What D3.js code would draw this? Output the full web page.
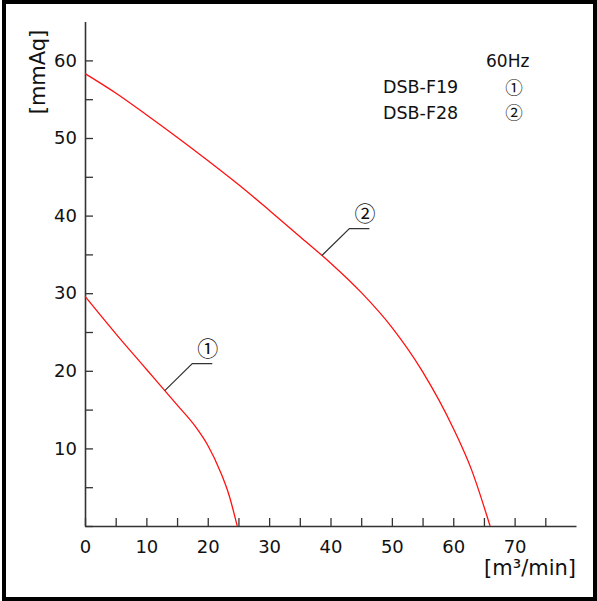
<!DOCTYPE html>
<html>
<head>
    <meta charset="utf-8">
    <style>
        html, body {
            margin: 0;
            padding: 0;
            background: #fff;
        }

        svg {
            display: block;
            font-family: "DejaVu Sans", sans-serif;
        }

        .circ {
            font-family: "Noto Sans CJK KR", "DejaVu Sans", sans-serif;
        }
    </style>
</head>
<body>
<div id="chart"></div>

<script src="https://cdn.jsdelivr.net/npm/d3@7"></script>
<script>
    "use strict";

    // air flow [m3/min] vs static pressure [mmAq]
    const f19Flow = [0, 5, 10, 15, 18, 20, 22, 23.5, 24.8];
    const f19Head = [29.6, 24.8, 20.2, 15.6, 12.8, 10.4, 7.1, 3.9, 0];

    const f28Flow = [0, 5, 10, 15, 20, 25, 30, 35, 40, 45, 50, 55, 60, 63, 66];
    const f28Head = [58.3, 55.8, 53.0, 50.1, 47.1, 44.0, 40.7, 37.3, 33.9, 30.1, 25.6, 19.9, 12.6, 7.2, 0];

    const xTicks = d3.range(0, 80, 5);
    const yTicks = d3.range(0, 65, 5);

    const legendModels = ["DSB-F19", "DSB-F28"];
    const legendMarks = ["①", "②"];

    const W = 597, H = 601;

    const x = d3.scaleLinear().domain([0, 80]).range([85, 576]);
    const y = d3.scaleLinear().domain([0, 65]).range([526, 21.6]);

    const svg = d3.select("#chart").append("svg")
        .attr("width", W)
        .attr("height", H);

    svg.append("rect")
        .attr("x", 0).attr("y", 0)
        .attr("width", W).attr("height", H)
        .attr("fill", "#fff");

    // frame
    svg.append("rect")
        .attr("x", 4).attr("y", 2)
        .attr("width", W - 6).attr("height", H - 4)
        .attr("fill", "none")
        .attr("stroke", "#000")
        .attr("stroke-width", 4);

    const xAxis = d3.axisBottom(x)
        .tickValues(xTicks)
        .tickSizeInner(-8)
        .tickSizeOuter(0)
        .tickPadding(10)
        .tickFormat(function (d) { return d % 10 === 0 ? d : ""; });

    const yAxis = d3.axisLeft(y)
        .tickValues(yTicks)
        .tickSizeInner(-8)
        .tickSizeOuter(0)
        .tickPadding(8)
        .tickFormat(function (d) { return (d % 10 === 0 && d > 0) ? d : ""; });

    const gx = svg.append("g")
        .attr("transform", "translate(0," + y(0) + ")")
        .call(xAxis);

    const gy = svg.append("g")
        .attr("transform", "translate(" + x(0) + ",0)")
        .call(yAxis);

    [gx, gy].forEach(function (g) {
        g.select(".domain").attr("stroke", "#333").attr("stroke-width", 1.6);
        g.selectAll(".tick line").attr("stroke", "#333").attr("stroke-width", 1.3);
        g.selectAll(".tick text")
            .attr("fill", "#111")
            .style("font-size", "18px")
            .style("font-family", "'DejaVu Sans', sans-serif");
    });
    gx.selectAll(".tick text").attr("dy", "0.95em");

    // axis titles
    svg.append("text")
        .attr("transform", "translate(45,72) rotate(-90)")
        .attr("text-anchor", "middle")
        .style("font-size", "21px")
        .attr("fill", "#111")
        .text("[mmAq]");

    svg.append("text")
        .attr("x", 576)
        .attr("y", 575)
        .attr("text-anchor", "end")
        .style("font-size", "21px")
        .attr("fill", "#111")
        .text("[m³/min]");

    // curves
    const line = d3.line()
        .x(function (d) { return x(d[0]); })
        .y(function (d) { return y(d[1]); })
        .curve(d3.curveMonotoneX);

    const series = [d3.zip(f19Flow, f19Head), d3.zip(f28Flow, f28Head)];

    svg.selectAll("path.curve")
        .data(series)
        .enter()
        .append("path")
        .attr("class", "curve")
        .attr("d", line)
        .attr("fill", "none")
        .attr("stroke", "#ff1010")
        .attr("stroke-width", 1.3);

    // leader lines with circled numbers
    const leaders = [
        {flow: 13.0, mark: legendMarks[0], data: series[0]},
        {flow: 38.6, mark: legendMarks[1], data: series[1]}
    ];

    leaders.forEach(function (l) {
        const head = d3.scaleLinear()
            .domain(l.data.map(function (d) { return d[0]; }))
            .range(l.data.map(function (d) { return d[1]; }));
        const px = x(l.flow), py = y(head(l.flow));
        svg.append("polyline")
            .attr("points", [[px, py], [px + 27.5, py - 27], [px + 47.5, py - 27]].join(" "))
            .attr("fill", "none")
            .attr("stroke", "#333")
            .attr("stroke-width", 1.2);
        svg.append("text")
            .attr("class", "circ")
            .attr("x", px + 43)
            .attr("y", py - 44)
            .attr("text-anchor", "middle")
            .attr("dominant-baseline", "central")
            .style("font-size", "21px")
            .attr("fill", "#111")
            .text(l.mark);
    });

    // legend
    svg.append("text")
        .attr("x", 486)
        .attr("y", 67)
        .style("font-size", "17px")
        .attr("fill", "#111")
        .text("60Hz");

    legendModels.forEach(function (m, i) {
        svg.append("text")
            .attr("x", 383)
            .attr("y", 92.5 + i * 26)
            .style("font-size", "17.5px")
            .attr("fill", "#111")
            .text(m);
        svg.append("text")
            .attr("class", "circ")
            .attr("x", 514)
            .attr("y", 86.3 + i * 25.5)
            .attr("text-anchor", "middle")
            .attr("dominant-baseline", "central")
            .style("font-size", "17.5px")
            .attr("fill", "#111")
            .text(legendMarks[i]);
    });
</script>
</body>
</html>
